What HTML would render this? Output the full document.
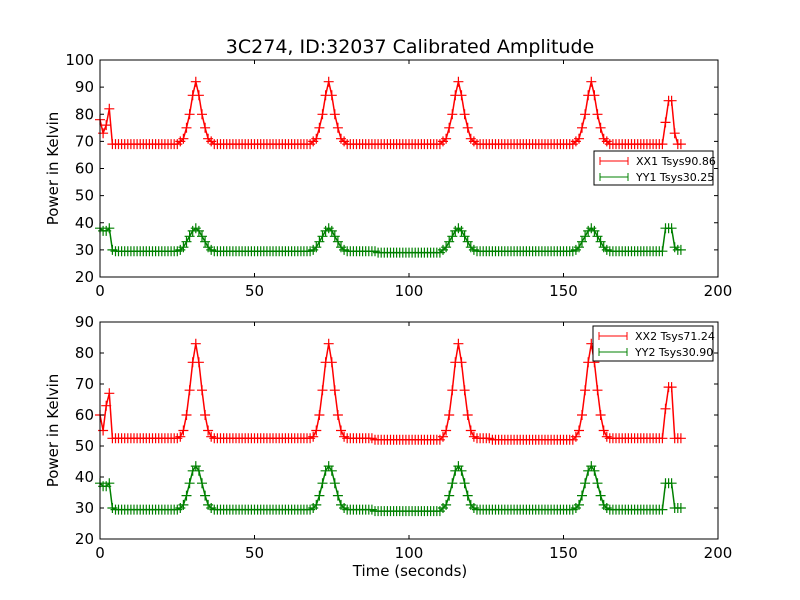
<!DOCTYPE html>
<html><head><meta charset="utf-8"><style>
body{margin:0;background:#fff;}
svg{display:block;font-family:"DejaVu Sans","Liberation Sans",sans-serif;}
</style></head><body>
<svg id="chart" width="800" height="600">
<text x="410" y="53" font-size="19" text-anchor="middle">3C274, ID:32037 Calibrated Amplitude</text>
<text x="410" y="576" font-size="15" text-anchor="middle">Time (seconds)</text>
<g id="top"></g>
<g id="bot"></g>
</svg>
<script>
const times = [];
for (let i = 0; i <= 188; i++) times.push(i);
const xx1 = [78,73,76,82,69,
69,69,69,69,69,69,69,69,69,69,69,69,69,69,69,69,69,69,69,69,69,
70,71,75,80,87,92,87,80,75,71,70,
69,69,69,69,69,69,69,69,69,69,69,69,69,69,69,69,69,69,69,69,69,69,69,69,69,69,69,69,69,69,69,69,
70,71,75,80,87,92,87,80,75,71,70,
69,69,69,69,69,69,69,69,69,69,69,69,69,69,69,69,69,69,69,69,69,69,69,69,69,69,69,69,69,69,69,
70,71,75,80,87,92,87,80,75,71,70,
69,69,69,69,69,69,69,69,69,69,69,69,69,69,69,69,69,69,69,69,69,69,69,69,69,69,69,69,69,69,69,69,
70,71,75,80,87,92,87,80,75,71,70,
69,69,69,69,69,69,69,69,69,69,69,69,69,69,69,69,69,69,
77,85,85,73,69,69];
const yy1 = [38,37,37,38,30,
29.5,29.5,29.5,29.5,29.5,29.5,29.5,29.5,29.5,29.5,29.5,29.5,29.5,29.5,29.5,29.5,29.5,29.5,29.5,29.5,29.5,
30,31,33,35,37,38,37,35,33,31,30,
29.5,29.5,29.5,29.5,29.5,29.5,29.5,29.5,29.5,29.5,29.5,29.5,29.5,29.5,29.5,29.5,29.5,29.5,29.5,29.5,29.5,29.5,29.5,29.5,29.5,29.5,29.5,29.5,29.5,29.5,29.5,29.5,
30,31,33,35,37,38,37,35,33,31,30,
29.5,29.5,29.5,29.5,29.5,29.5,29.5,29.5,29.5,29.5,29,29,29,29,29,29,29,29,29,29,29,29,29,29,29,29,29,29,29,29,29,
30,31,33,35,37,38,37,35,33,31,30,
29.5,29.5,29.5,29.5,29.5,29.5,29.5,29.5,29.5,29.5,29.5,29.5,29.5,29.5,29.5,29.5,29.5,29.5,29.5,29.5,29.5,29.5,29.5,29.5,29.5,29.5,29.5,29.5,29.5,29.5,29.5,29.5,
30,31,33,35,37,38,37,35,33,31,30,
29.5,29.5,29.5,29.5,29.5,29.5,29.5,29.5,29.5,29.5,29.5,29.5,29.5,29.5,29.5,29.5,29.5,29.5,
38,38,38,31,30,30];
const xx2 = [60,55,63,67,52.5,
52.5,52.5,52.5,52.5,52.5,52.5,52.5,52.5,52.5,52.5,52.5,52.5,52.5,52.5,52.5,52.5,52.5,52.5,52.5,52.5,52.5,
53,55,60,68,77,83,77,68,60,55,53,
52.5,52.5,52.5,52.5,52.5,52.5,52.5,52.5,52.5,52.5,52.5,52.5,52.5,52.5,52.5,52.5,52.5,52.5,52.5,52.5,52.5,52.5,52.5,52.5,52.5,52.5,52.5,52.5,52.5,52.5,52.5,52.5,
53,55,60,68,77,83,77,68,60,55,53,
52.5,52.5,52.5,52.5,52.5,52.5,52.5,52.5,52.5,52,52,52,52,52,52,52,52,52,52,52,52,52,52,52,52,52,52,52,52,52,52,
53,55,60,68,77,83,77,68,60,55,53,
52.5,52.5,52.5,52.5,52.5,52,52,52,52,52,52,52,52,52,52,52,52,52,52,52,52,52,52,52,52,52,52,52,52,52,52,52,
53,55,60,68,77,83,77,68,60,55,53,
52.5,52.5,52.5,52.5,52.5,52.5,52.5,52.5,52.5,52.5,52.5,52.5,52.5,52.5,52.5,52.5,52.5,52.5,
62,69,69,52.5,52.5,52.5];
const yy2 = [38,37,37,38,30,
29.5,29.5,29.5,29.5,29.5,29.5,29.5,29.5,29.5,29.5,29.5,29.5,29.5,29.5,29.5,29.5,29.5,29.5,29.5,29.5,29.5,
30,31,34,38,42,43.5,42,38,34,31,30,
29.5,29.5,29.5,29.5,29.5,29.5,29.5,29.5,29.5,29.5,29.5,29.5,29.5,29.5,29.5,29.5,29.5,29.5,29.5,29.5,29.5,29.5,29.5,29.5,29.5,29.5,29.5,29.5,29.5,29.5,29.5,29.5,
30,31,34,38,42,43.5,42,38,34,31,30,
29.5,29.5,29.5,29.5,29.5,29.5,29.5,29.5,29.5,29,29,29,29,29,29,29,29,29,29,29,29,29,29,29,29,29,29,29,29,29,29,
30,31,34,38,42,43.5,42,38,34,31,30,
29.5,29.5,29.5,29.5,29.5,29.5,29.5,29.5,29.5,29.5,29.5,29.5,29.5,29.5,29.5,29.5,29.5,29.5,29.5,29.5,29.5,29.5,29.5,29.5,29.5,29.5,29.5,29.5,29.5,29.5,29.5,29.5,
30,31,34,38,42,43.5,42,38,34,31,30,
29.5,29.5,29.5,29.5,29.5,29.5,29.5,29.5,29.5,29.5,29.5,29.5,29.5,29.5,29.5,29.5,29.5,29.5,
38,38,38,30,30,30];
const xTicks = [0,50,100,150,200];
const yTicksTop = [20,30,40,50,60,70,80,90,100];
const yTicksBot = [20,30,40,50,60,70,80,90];
const legendTop = ["XX1 Tsys90.86","YY1 Tsys30.25"];
const legendBot = ["XX2 Tsys71.24","YY2 Tsys30.90"];

const NS = "http://www.w3.org/2000/svg";
function mk(tag, attrs, parent){const e=document.createElementNS(NS,tag);for(const k in attrs)e.setAttribute(k,attrs[k]);parent.appendChild(e);return e;}

function panel(g, top, bottom, ymin, ymax, yTicks, series, colors, labels, legendBox){
  const L=100,R=718;
  const xs=v=>L+(v-0)/(200-0)*(R-L);
  const ys=v=>bottom-(v-ymin)/(ymax-ymin)*(bottom-top);
  series.forEach((s,si)=>{
    let d="", m="";
    s.forEach((v,i)=>{const x=xs(times[i]),y=ys(v);d+=(i?"L":"M")+x.toFixed(1)+","+y.toFixed(1);
      m+="M"+(x-5).toFixed(1)+","+y.toFixed(1)+"h10M"+x.toFixed(1)+","+(y-5).toFixed(1)+"v10";});
    const ln=mk("path",{d:d,fill:"none",stroke:colors[si],"stroke-width":1.5},g);
    
    
    const mp=mk("path",{d:m,fill:"none",stroke:colors[si],"stroke-width":1.2},g);
    
    
  });
  const fr=mk("rect",{x:L,y:top,width:R-L,height:bottom-top,fill:"none",stroke:"#000","stroke-width":1},g);
  
  
  xTicks.forEach(t=>{const x=xs(t);
    mk("path",{d:`M${x},${bottom}v-4M${x},${top}v4`,stroke:"#000"},g);
    const tx=mk("text",{x:x,y:bottom+19,"font-size":15,"text-anchor":"middle"},g);tx.textContent=t;
    
    });
  yTicks.forEach(t=>{const y=ys(t);
    mk("path",{d:`M${L},${y}h4M${R},${y}h-4`,stroke:"#000"},g);
    const tx=mk("text",{x:L-6,y:y+5,"font-size":15,"text-anchor":"end"},g);tx.textContent=t;
    
    });
  const yt=mk("text",{x:0,y:0,"font-size":15,"text-anchor":"middle",transform:`translate(58,${(top+bottom)/2}) rotate(-90)`},g);
  yt.textContent="Power in Kelvin";
  
  
  const [bx,by,bw,bh]=legendBox;
  const lg=mk("g",{},g);
  
  
  mk("rect",{x:bx,y:by,width:bw,height:bh,fill:"#fff",stroke:"#000","stroke-width":1},lg);
  labels.forEach((lab,i)=>{const y=by+10+i*16;
    mk("path",{d:`M${bx+6},${y}h28M${bx+6},${y-4}v8M${bx+34},${y-4}v8`,stroke:colors[i],fill:"none"},lg);
    const tx=mk("text",{x:bx+42,y:y+4,"font-size":11},lg);tx.textContent=lab;
    
    });
}
panel(document.getElementById("top"),60,277,20,100,yTicksTop,[xx1,yy1],["#ff0000","#008000"],legendTop,[594,151,119,34]);
panel(document.getElementById("bot"),322,539,20,90,yTicksBot,[xx2,yy2],["#ff0000","#008000"],legendBot,[593,326,120,35]);
</script>
</body></html>
